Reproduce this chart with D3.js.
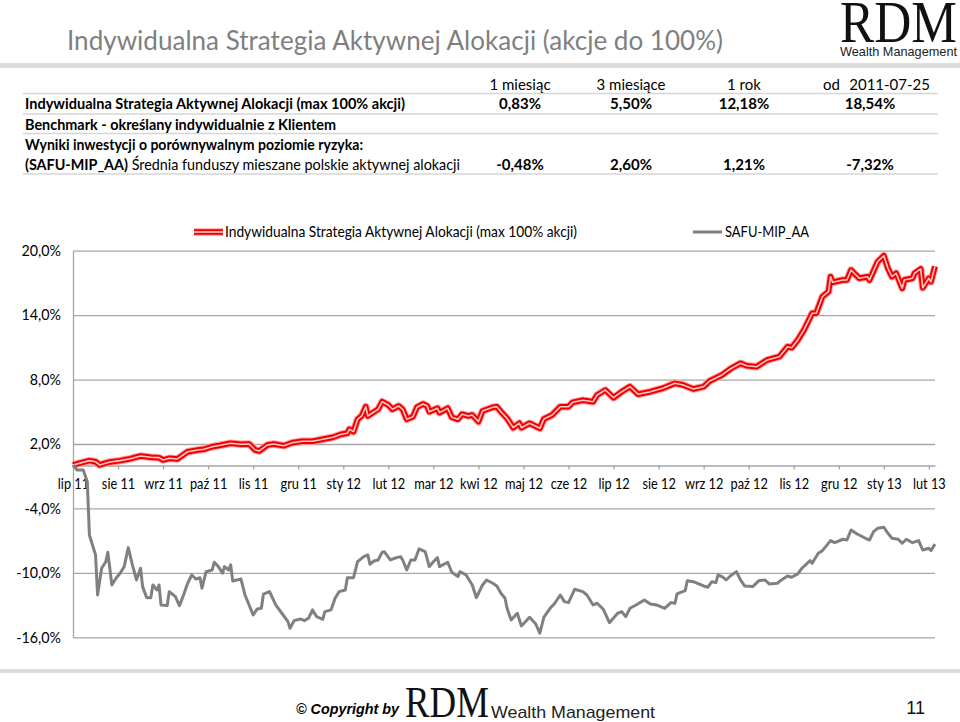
<!DOCTYPE html>
<html>
<head>
<meta charset="utf-8">
<script src="https://cdn.jsdelivr.net/npm/d3@7"></script>
<style>
  body { margin: 0; background: #fff; }
  svg { display: block; }
  .axis text { font-family: Lato, sans-serif; font-size: 15px; fill: #000; }
  .axis--x text { font-size: 14.5px; }
  .axis .domain { stroke: #a6a6a6; stroke-width: 1.3; }
  .axis .tick line { stroke: #a6a6a6; stroke-width: 1.3; }
</style>
</head>
<body>
<div id="chart"></div>
<script>
// table
const periods = ['1 miesiąc', '3 miesiące', '1 rok'];
const sinceDate = '2011-07-25';
const strategyReturns = ['0,83%', '5,50%', '12,18%', '18,54%'];
const benchReturns = ['-0,48%', '2,60%', '1,21%', '-7,32%'];

// chart series: trading day index since 2011-07-25 and cumulative return in %
const strategyName = 'Indywidualna Strategia Aktywnej Alokacji (max 100% akcji)';
const benchName = 'SAFU-MIP_AA';

const redDays = [0, 8, 11, 13, 18, 23, 28, 33, 38, 42, 44, 47, 51, 56, 61, 64, 68, 72, 77, 82, 86, 89, 91, 95, 98,
  103, 107, 112, 117, 122, 127, 131, 134, 135, 137, 139, 141, 143, 144, 146, 149, 151, 154, 156, 159, 161, 163,
  166, 168, 171, 173, 174, 178, 179, 183, 185, 188, 190, 193, 195, 198, 200, 205, 207, 209, 212, 215, 218, 219,
  223, 228, 230, 234, 238, 242, 244, 249, 254, 256, 260, 264, 268, 272, 276, 282, 288, 294, 298, 303, 308, 311,
  317, 321, 326, 329, 334, 339, 345, 349, 351, 354, 357, 361, 363, 366, 369, 370, 371, 376, 378, 380, 384, 388,
  389, 393, 396, 398, 400, 402, 405, 406, 410, 411, 414, 415, 418, 419, 421];
const redValues = [0.05, 0.45, 0.35, 0.05, 0.33, 0.45, 0.63, 0.88, 0.76, 0.73, 0.51, 0.67, 0.61, 1.28, 1.44, 1.51,
  1.75, 1.88, 2.07, 1.97, 2.00, 1.44, 1.35, 1.91, 2.00, 1.84, 2.12, 2.25, 2.25, 2.44, 2.63, 2.91, 3.00, 3.37, 3.15,
  4.30, 4.61, 5.47, 4.61, 4.86, 5.23, 5.94, 5.63, 5.23, 5.54, 5.23, 4.30, 4.54, 5.42, 5.73, 5.54, 5.01, 5.33, 4.92,
  5.33, 4.49, 4.30, 4.77, 4.61, 4.70, 4.08, 5.07, 5.42, 5.47, 5.01, 4.39, 3.52, 3.93, 3.52, 3.93, 3.46, 4.33, 4.70,
  5.47, 5.47, 5.88, 6.07, 5.94, 6.56, 7.03, 6.31, 6.87, 7.34, 6.63, 6.87, 7.19, 7.65, 7.50, 7.12, 7.34, 7.87, 8.43,
  8.99, 9.52, 9.29, 9.20, 9.82, 10.13, 11.06, 10.97, 11.69, 12.62, 14.17, 14.17, 15.72, 16.18, 17.58, 17.06, 17.27,
  17.27, 18.20, 17.43, 17.58, 17.27, 18.98, 19.53, 18.36, 17.58, 17.90, 16.50, 17.27, 17.43, 17.90, 18.30, 16.55,
  17.43, 17.11, 18.54];

const grayDays = [0, 2, 5, 7, 8, 10, 11, 12, 14, 16, 17, 19, 21, 23, 25, 27, 29, 31, 33, 34, 36, 38, 39, 41, 42, 43,
  46, 47, 50, 52, 54, 56, 58, 60, 62, 63, 65, 68, 69, 71, 73, 74, 76, 77, 78, 82, 84, 86, 88, 90, 92, 93, 96, 99,
  102, 105, 106, 108, 111, 113, 115, 117, 119, 122, 123, 126, 128, 130, 133, 134, 137, 139, 142, 144, 145, 147,
  149, 151, 152, 155, 157, 160, 161, 163, 165, 167, 169, 172, 174, 176, 178, 179, 183, 185, 188, 189, 192, 195,
  197, 200, 202, 205, 207, 209, 211, 212, 214, 217, 219, 223, 226, 228, 230, 233, 235, 238, 240, 242, 245, 249,
  251, 254, 256, 259, 262, 266, 268, 270, 272, 275, 279, 282, 285, 289, 292, 294, 295, 299, 300, 303, 305, 308,
  310, 312, 314, 315, 317, 319, 321, 324, 326, 328, 332, 335, 338, 340, 344, 346, 349, 351, 354, 356, 360, 361,
  364, 366, 370, 372, 376, 378, 380, 383, 387, 389, 391, 393, 396, 398, 400, 403, 405, 407, 410, 413, 415, 418,
  419, 421];
const grayValues = [0.05, -0.42, -0.42, -1.51, -6.47, -7.71, -8.33, -12.06, -9.57, -8.96, -8.08, -11.13, -10.50,
  -10.04, -9.42, -7.65, -9.26, -10.66, -9.57, -11.28, -12.31, -12.31, -11.13, -11.59, -11.13, -12.99, -13.05,
  -11.75, -12.22, -13.05, -12.06, -10.97, -10.20, -10.57, -10.45, -11.43, -9.89, -9.73, -9.01, -9.42, -10.04,
  -9.42, -9.73, -9.26, -10.75, -10.57, -12.06, -12.99, -13.92, -13.36, -13.30, -11.99, -11.75, -12.99, -13.76,
  -14.54, -15.16, -14.45, -14.29, -14.45, -14.23, -13.45, -14.08, -14.32, -13.61, -13.45, -12.36, -11.75, -11.59,
  -10.45, -10.45, -8.96, -8.49, -8.33, -9.20, -8.89, -8.80, -8.08, -8.03, -8.80, -8.64, -8.49, -8.80, -9.73,
  -8.80, -8.80, -7.77, -8.03, -9.42, -8.96, -8.58, -9.42, -9.01, -9.94, -10.35, -9.89, -10.20, -11.13, -12.31,
  -11.13, -10.66, -10.97, -11.22, -11.90, -12.36, -13.30, -14.39, -13.76, -14.94, -14.13, -14.76, -15.62, -14.13,
  -13.30, -12.90, -12.06, -12.68, -12.77, -11.53, -11.75, -12.06, -12.99, -12.83, -13.39, -14.64, -13.76, -13.61,
  -14.08, -13.30, -12.99, -12.52, -12.90, -12.99, -13.30, -12.77, -12.83, -11.96, -11.66, -10.73, -10.82, -10.97,
  -11.22, -11.34, -10.82, -10.91, -10.20, -10.35, -10.66, -10.29, -9.89, -10.66, -11.22, -11.28, -10.73, -10.66,
  -11.03, -10.97, -10.66, -10.29, -10.41, -10.10, -9.57, -8.86, -9.11, -8.18, -7.93, -7.00, -7.19, -6.87, -6.94,
  -6.01, -6.38, -6.78, -6.94, -6.16, -5.85, -5.75, -6.31, -6.78, -6.87, -7.24, -6.87, -7.19, -7.00, -7.87, -7.71,
  -7.93, -7.32];

const monthLabels = ['lip 11', 'sie 11', 'wrz 11', 'paź 11', 'lis 11', 'gru 11', 'sty 12', 'lut 12', 'mar 12',
  'kwi 12', 'maj 12', 'cze 12', 'lip 12', 'sie 12', 'wrz 12', 'paź 12', 'lis 12', 'gru 12', 'sty 13', 'lut 13'];
const monthTickDays = monthLabels.map((d, i) => i * 22);
const yTicks = [-16, -10, -4, 2, 8, 14, 20];

const svgWidth = 960;
const svgHeight = 722;

const svg = d3.select('#chart')
  .append('svg')
  .attr('width', svgWidth)
  .attr('height', svgHeight);

// narrow Lato a little so it takes Calibri's width
const condense = (sel, k) => sel.each(function () {
  const w = this.getComputedTextLength();
  d3.select(this)
    .attr('textLength', w * k)
    .attr('lengthAdjust', 'spacingAndGlyphs');
});

// header
svg.append('text')
  .attr('x', 67).attr('y', 50)
  .attr('font-family', 'Lato, sans-serif')
  .attr('font-size', 27)
  .attr('fill', '#7f7f7f')
  .attr('textLength', 656)
  .attr('lengthAdjust', 'spacingAndGlyphs')
  .text('Indywidualna Strategia Aktywnej Alokacji (akcje do 100%)');

svg.append('rect')
  .attr('x', 0).attr('y', 63).attr('width', svgWidth).attr('height', 5)
  .attr('fill', '#dcdcdc');

const logo = (g, x, y, size, w, sy) => {
  g.append('text')
    .attr('transform', `translate(${x},${y}) scale(1,${sy})`)
    .attr('font-family', '"Liberation Serif", serif')
    .attr('font-size', size)
    .attr('fill', '#111')
    .attr('textLength', w)
    .attr('lengthAdjust', 'spacingAndGlyphs')
    .text('RDM');
};
logo(svg, 840, 42, 48, 117, 1.22);
svg.append('text')
  .attr('x', 840).attr('y', 56)
  .attr('font-family', '"Liberation Sans", Arial, sans-serif')
  .attr('font-size', 13)
  .attr('fill', '#222')
  .attr('textLength', 117)
  .attr('lengthAdjust', 'spacingAndGlyphs')
  .text('Wealth Management');

// results table
const colX = [520, 631, 744, 870];
const table = svg.append('g')
  .attr('font-family', 'Lato, sans-serif')
  .attr('font-size', 15)
  .attr('fill', '#000');

[93.5, 114, 133.5, 174].forEach(y => {
  table.append('line')
    .attr('x1', 23).attr('x2', 938)
    .attr('y1', y).attr('y2', y)
    .attr('stroke', '#d6d6d6')
    .attr('stroke-width', 1.5);
});

periods.forEach((p, i) => {
  table.append('text')
    .attr('x', colX[i]).attr('y', 90)
    .attr('text-anchor', 'middle')
    .text(p);
});
table.append('text').attr('x', 823).attr('y', 90).text('od');
table.append('text').attr('x', 930).attr('y', 90).attr('text-anchor', 'end').text(sinceDate);

table.append('text')
  .attr('x', 25).attr('y', 109)
  .attr('font-weight', 'bold')
  .attr('textLength', 380)
  .attr('lengthAdjust', 'spacingAndGlyphs')
  .text(strategyName);
table.append('text')
  .attr('x', 25).attr('y', 130)
  .attr('font-weight', 'bold')
  .attr('textLength', 311)
  .attr('lengthAdjust', 'spacingAndGlyphs')
  .text('Benchmark - określany indywidualnie z Klientem');
table.append('text')
  .attr('x', 25).attr('y', 150)
  .attr('font-weight', 'bold')
  .attr('textLength', 338)
  .attr('lengthAdjust', 'spacingAndGlyphs')
  .text('Wyniki inwestycji o porównywalnym poziomie ryzyka:');
const row4 = table.append('text')
  .attr('x', 25).attr('y', 170)
  .attr('textLength', 435)
  .attr('lengthAdjust', 'spacingAndGlyphs');
row4.append('tspan').attr('font-weight', 'bold').text('(SAFU-MIP_AA)');
row4.append('tspan').text(' Średnia funduszy mieszane polskie aktywnej alokacji');

strategyReturns.forEach((v, i) => {
  table.append('text')
    .attr('x', colX[i]).attr('y', 109)
    .attr('text-anchor', 'middle')
    .attr('font-weight', 'bold')
    .text(v);
});
benchReturns.forEach((v, i) => {
  table.append('text')
    .attr('x', colX[i]).attr('y', 170)
    .attr('text-anchor', 'middle')
    .attr('font-weight', 'bold')
    .text(v);
});

// chart
const x = d3.scaleLinear().domain([0, 421]).range([73, 935]);
const y = d3.scaleLinear().domain([-16, 20]).range([637.3, 250.7]);

const fmt = d => d.toFixed(1).replace('.', ',') + '%';

svg.append('g')
  .attr('class', 'axis axis--y')
  .attr('transform', `translate(${x(0)},0)`)
  .call(d3.axisLeft(y)
    .tickValues(yTicks)
    .tickFormat(fmt)
    .tickSize(-(x(421) - x(0)))
    .tickSizeOuter(0)
    .tickPadding(12))
  .call(g => condense(g.selectAll('text'), 0.95));

svg.append('g')
  .attr('class', 'axis axis--x')
  .attr('transform', `translate(0,${y(0)})`)
  .call(d3.axisBottom(x)
    .tickValues(monthTickDays)
    .tickFormat((d, i) => monthLabels[i])
    .tickSize(4)
    .tickSizeOuter(0)
    .tickPadding(9))
  .call(g => condense(g.selectAll('text'), 0.88));

const line = d3.line()
  .x(d => x(d.day))
  .y(d => y(d.value));

const redData = redDays.map((d, i) => ({ day: d, value: redValues[i] }));
const grayData = grayDays.map((d, i) => ({ day: d, value: grayValues[i] }));

const drawRed = (sel) => {
  sel.append('path').attr('fill', 'none').attr('stroke', '#ff9a9a').attr('stroke-width', 7.5)
    .attr('stroke-linejoin', 'round');
  sel.append('path').attr('fill', 'none').attr('stroke', '#f00000').attr('stroke-width', 5.5)
    .attr('stroke-linejoin', 'round');
  sel.append('path').attr('fill', 'none').attr('stroke', '#ffc8c8').attr('stroke-width', 1.6)
    .attr('stroke-linejoin', 'round');
};

const red = svg.append('g').datum(redData);
drawRed(red);
red.selectAll('path').attr('d', line);

svg.append('path')
  .datum(grayData)
  .attr('fill', 'none')
  .attr('stroke', '#808080')
  .attr('stroke-width', 3)
  .attr('stroke-linejoin', 'round')
  .attr('d', line);

// legend
const legend = svg.append('g')
  .attr('font-family', 'Lato, sans-serif')
  .attr('font-size', 15)
  .attr('fill', '#000');
const redKey = legend.append('g');
drawRed(redKey);
redKey.selectAll('path').attr('d', 'M194,232H223');
legend.append('text')
  .attr('x', 225).attr('y', 237)
  .attr('textLength', 352)
  .attr('lengthAdjust', 'spacingAndGlyphs')
  .text(strategyName);
legend.append('line')
  .attr('x1', 693).attr('x2', 722).attr('y1', 232).attr('y2', 232)
  .attr('stroke', '#808080').attr('stroke-width', 3);
legend.append('text')
  .attr('x', 725).attr('y', 237)
  .attr('textLength', 84)
  .attr('lengthAdjust', 'spacingAndGlyphs')
  .text(benchName);

// footer
svg.append('rect')
  .attr('x', 0).attr('y', 669).attr('width', svgWidth).attr('height', 4)
  .attr('fill', '#dcdcdc');
svg.append('text')
  .attr('x', 296).attr('y', 714)
  .attr('font-family', '"Liberation Sans", Arial, sans-serif')
  .attr('font-size', 14)
  .attr('font-weight', 'bold')
  .attr('font-style', 'italic')
  .attr('textLength', 103)
  .attr('lengthAdjust', 'spacingAndGlyphs')
  .text('© Copyright by');
logo(svg, 405, 717, 38, 84, 1.15);
svg.append('text')
  .attr('x', 491).attr('y', 718)
  .attr('font-family', '"Liberation Sans", Arial, sans-serif')
  .attr('font-size', 17)
  .attr('fill', '#222')
  .attr('textLength', 164)
  .attr('lengthAdjust', 'spacingAndGlyphs')
  .text('Wealth Management');
svg.append('text')
  .attr('x', 925).attr('y', 714)
  .attr('text-anchor', 'end')
  .attr('font-family', '"Liberation Sans", Arial, sans-serif')
  .attr('font-size', 18)
  .attr('fill', '#111')
  .text('11');
</script>
</body>
</html>
